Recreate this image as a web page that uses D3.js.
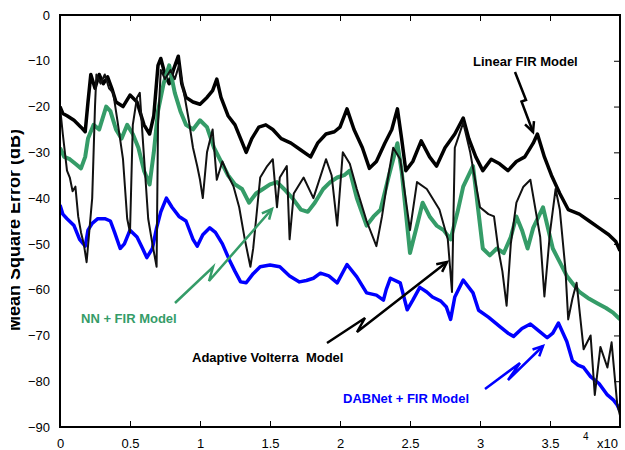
<!DOCTYPE html>
<html>
<head>
<meta charset="utf-8">
<script src="https://cdn.jsdelivr.net/npm/d3@7/dist/d3.min.js"></script>
<style>
    body { margin: 0; background: #fff; }
    svg  { display: block; font-family: "Liberation Sans", Arial, sans-serif; }
    .tick text { font-size: 13px; fill: #000; }
    .tick line { stroke: #000; stroke-width: 1; }
    .note { font-size: 13px; font-weight: bold; }
</style>
</head>
<body>
<svg id="mse-chart" width="625" height="450"></svg>
<script>
////////////////////////////////////////
///// MSE LEARNING CURVES (x10^4)  /////
////////////////////////////////////////

// DATA (iterations in units of 10^4, MSE in dB)

const xTicks = [0, 0.5, 1, 1.5, 2, 2.5, 3, 3.5]
const yTicks = [0, -10, -20, -30, -40, -50, -60, -70, -80, -90]

const linearX = [0, 0.02, 0.05, 0.10, 0.15, 0.18, 0.20, 0.22, 0.25, 0.28, 0.31, 0.34, 0.37, 0.40, 0.45, 0.50, 0.55, 0.60, 0.64, 0.67,
    0.70, 0.72, 0.75, 0.78, 0.81, 0.845, 0.87, 0.90, 0.95, 1.00, 1.05, 1.09, 1.12, 1.15, 1.20, 1.25, 1.29, 1.33, 1.37, 1.42,
    1.47, 1.52, 1.58, 1.65, 1.72, 1.79, 1.84, 1.90, 1.96, 2.00, 2.05, 2.10, 2.16, 2.21, 2.26, 2.32, 2.37, 2.41, 2.44, 2.47,
    2.52, 2.58, 2.64, 2.69, 2.75, 2.82, 2.88, 2.92, 2.97, 3.02, 3.08, 3.14, 3.20, 3.26, 3.32, 3.38, 3.41, 3.46, 3.51, 3.57,
    3.63, 3.71, 3.78, 3.85, 3.92, 3.97, 4.00]
const linearY = [-20, -21.5, -22, -23, -24.5, -25.5, -19, -13, -16, -13, -15, -13.5, -16, -19, -20, -17.5, -19, -24, -26, -22,
    -11, -9.5, -13, -15, -12, -9, -15, -18, -19, -19.5, -18, -16.5, -14, -18, -22, -24, -27, -30, -27, -24.5,
    -24, -25, -27, -28, -29.5, -31, -28, -26, -25.5, -24.5, -20.5, -25, -29, -33.5, -32, -28, -25, -20.5, -27, -34,
    -32, -27.5, -31, -33, -29, -26, -22.5, -27, -31, -34, -31.5, -32.5, -34, -32, -31, -28, -26, -31, -35, -39,
    -42.5, -43.5, -45, -46.5, -48, -49.5, -51.5]

const nnX = [0, 0.03, 0.07, 0.11, 0.15, 0.18, 0.20, 0.24, 0.28, 0.33, 0.36, 0.40, 0.44, 0.48, 0.52, 0.56, 0.60, 0.64, 0.67, 0.70,
    0.74, 0.78, 0.82, 0.86, 0.90, 0.95, 1.00, 1.05, 1.10, 1.15, 1.20, 1.25, 1.30, 1.35, 1.40, 1.45, 1.50, 1.55, 1.60, 1.66,
    1.72, 1.77, 1.82, 1.88, 1.93, 1.98, 2.03, 2.07, 2.12, 2.19, 2.24, 2.29, 2.35, 2.41, 2.44, 2.50, 2.55, 2.59, 2.64, 2.69,
    2.74, 2.79, 2.84, 2.88, 2.95, 3.02, 3.07, 3.12, 3.17, 3.22, 3.26, 3.30, 3.34, 3.38, 3.45, 3.52, 3.57, 3.62, 3.67, 3.71,
    3.78, 3.84, 3.90, 3.95, 4.00]
const nnY = [-29, -31, -31.5, -32.5, -33.5, -31, -27, -24, -25, -20, -21, -25, -27, -24, -26, -29, -34, -37, -30, -21,
    -15, -11, -17, -21, -24, -25, -23, -24.5, -29, -32, -35, -37, -38, -41, -39, -38, -37, -36.5, -38, -40,
    -42.5, -43, -41, -38, -36.5, -35.5, -35, -34, -40, -46, -44, -42.5, -35, -28, -34, -52, -46, -41, -44, -46,
    -47, -49, -43, -37.5, -33, -51, -52.5, -51, -52, -48.5, -44, -47, -51, -46.5, -42, -51, -54, -57, -59, -60.5,
    -62, -63, -64, -65, -66.5]

const volterraX = [0, 0.02, 0.05, 0.07, 0.09, 0.11, 0.13, 0.15, 0.17, 0.19, 0.21, 0.23, 0.25, 0.26, 0.29, 0.32, 0.35, 0.38, 0.41, 0.45,
    0.48, 0.50, 0.52, 0.55, 0.57, 0.59, 0.63, 0.66, 0.69, 0.70, 0.72, 0.75, 0.79, 0.82, 0.85, 0.88, 0.92, 0.95, 0.98, 1.00,
    1.02, 1.05, 1.09, 1.12, 1.16, 1.20, 1.24, 1.28, 1.32, 1.36, 1.38, 1.43, 1.48, 1.52, 1.55, 1.57, 1.62, 1.64, 1.67, 1.74,
    1.81, 1.90, 1.94, 1.98, 2.02, 2.07, 2.12, 2.19, 2.26, 2.30, 2.34, 2.38, 2.43, 2.50, 2.55, 2.62, 2.71, 2.77, 2.80, 2.82,
    2.88, 2.93, 3.00, 3.06, 3.10, 3.13, 3.16, 3.19, 3.22, 3.26, 3.31, 3.36, 3.43, 3.46, 3.50, 3.54, 3.57, 3.61, 3.63, 3.66,
    3.69, 3.74, 3.79, 3.82, 3.86, 3.91, 3.94, 3.98, 4.00]
const volterraY = [-20, -26, -34, -35.5, -38.5, -37.5, -44, -47.5, -50, -54, -47, -40, -20, -13, -15, -13, -16, -17, -23, -31.5,
    -44.5, -47.5, -24, -18, -17, -26.5, -44.5, -50, -55, -24, -12, -14, -12, -14, -11, -16, -23, -29, -33, -36,
    -40, -30, -25, -36, -32, -35, -37.5, -42, -49, -55, -51, -35.5, -33, -31.5, -42, -35.5, -33, -49, -39, -35.5,
    -40, -31.5, -35, -46, -30, -32.5, -38, -45, -50.5, -44, -36, -29, -31.5, -47, -36.5, -38, -42.5, -49, -60.5, -29,
    -23.5, -30, -42, -43.5, -44, -51, -56, -63.5, -50, -41, -37.5, -36, -48.5, -61.5, -47.5, -38, -42.5, -55.5, -66.5, -62,
    -58.5, -73, -70, -83, -72.5, -77, -71.5, -85, -87.5]

const dabnetX = [0, 0.02, 0.05, 0.10, 0.14, 0.18, 0.20, 0.23, 0.27, 0.32, 0.36, 0.39, 0.43, 0.46, 0.50, 0.55, 0.59, 0.62, 0.66, 0.69,
    0.72, 0.76, 0.80, 0.85, 0.90, 0.95, 0.98, 1.02, 1.07, 1.11, 1.16, 1.21, 1.25, 1.29, 1.33, 1.38, 1.43, 1.50, 1.57, 1.64,
    1.71, 1.76, 1.81, 1.86, 1.92, 1.98, 2.05, 2.12, 2.19, 2.26, 2.31, 2.33, 2.36, 2.43, 2.48, 2.52, 2.57, 2.62, 2.66, 2.72,
    2.76, 2.79, 2.82, 2.88, 2.95, 2.99, 3.06, 3.14, 3.20, 3.24, 3.30, 3.36, 3.42, 3.48, 3.52, 3.56, 3.62, 3.66, 3.70, 3.74,
    3.79, 3.85, 3.91, 3.95, 3.98, 4.00]
const dabnetY = [-41.5, -43.5, -44.5, -46, -49, -50.5, -47, -45.5, -44.5, -44.5, -45, -47.5, -51, -50, -47, -48.5, -51, -53, -51, -46.5,
    -43, -40, -42, -44, -45, -49, -50.5, -48, -46.5, -47.5, -50, -53.5, -56, -58.3, -58.5, -56.5, -55, -54.6, -55, -57,
    -58.3, -58, -57.5, -56.4, -57, -58.5, -54.5, -57.2, -60.7, -61.2, -62.3, -60, -57.5, -58.5, -64.4, -62.3, -59.5, -60.5, -61.6, -62.5,
    -63.8, -66.5, -61.6, -57.9, -60.7, -64.5, -66, -68, -69.5, -70.2, -68.5, -67.5, -69, -70.5, -69.5, -67.3, -71.3, -75.5, -76.5, -77,
    -79, -80.5, -83, -84, -85.2, -86.5]


// LAYOUT SETTINGS

const settings = {
    svgID: 'mse-chart',
    plot:  { left: 60, right: 620, top: 15, bottom: 427 },
    colours: { linear: '#000', nn: '#359c68', volterra: '#111', dabnet: '#0000ff' }
}

// Annotation layout: label anchor and "lightning" arrow path (pixels)
const annotations = [
    { text: 'Linear FIR Model',          colour: settings.colours.linear, x: 473, y: 66,
      path: [[515, 72], [526, 100], [521.5, 101.5], [533, 132]] },
    { text: 'NN + FIR Model',            colour: settings.colours.nn,     x: 81,  y: 323,
      path: [[175, 303], [213, 267], [209, 281], [272, 209]] },
    { text: 'Adaptive Volterra\u00a0 Model', colour: '#000',              x: 192, y: 362,
      path: [[327, 343], [365, 318], [357, 332], [447, 262]] },
    { text: 'DABNet + FIR Model',        colour: settings.colours.dabnet, x: 343, y: 403,
      path: [[485, 389], [520, 363], [508, 380], [543, 346]] }
]


// I. SCALES AND AXES
const svg = d3.select(`#${settings.svgID}`)
const p = settings.plot

const x = d3.scaleLinear().domain([0, 4]).range([p.left, p.right])
const y = d3.scaleLinear().domain([0, -90]).range([p.top, p.bottom])

const defs = svg.append('defs')
defs.append('clipPath').attr('id', 'plot-clip')
    .append('rect').attr('x', p.left).attr('y', p.top)
    .attr('width', p.right - p.left).attr('height', p.bottom - p.top)

defs.append('clipPath').attr('id', 'ylabel-clip')
    .append('rect').attr('x', 11).attr('y', 0).attr('width', 30).attr('height', 450)

// Bottom: labelled, ticks pointing inward
svg.append('g').attr('transform', `translate(0,${p.bottom})`)
    .call(d3.axisBottom(x).tickValues(xTicks).tickFormat(d3.format('')).tickSizeInner(-6).tickSizeOuter(0).tickPadding(12))
    .call(g => g.select('.domain').remove())
    .call(g => g.selectAll('.tick').filter(d => d === 0).select('line').remove())

// Left: labels only
svg.append('g').attr('transform', `translate(${p.left},0)`)
    .call(d3.axisLeft(y).tickValues(yTicks).tickSizeInner(0).tickSizeOuter(0).tickPadding(10))
    .call(g => g.select('.domain').remove())
    .call(g => g.selectAll('.tick line').remove())

// Top and right: inward tick marks only
svg.append('g').attr('transform', `translate(0,${p.top})`)
    .call(d3.axisTop(x).tickValues(xTicks.slice(1)).tickFormat('').tickSizeInner(-6).tickSizeOuter(0))
    .call(g => g.select('.domain').remove())

svg.append('g').attr('transform', `translate(${p.right},0)`)
    .call(d3.axisRight(y).tickValues(yTicks.slice(1, -1)).tickFormat('').tickSizeInner(-6).tickSizeOuter(0))
    .call(g => g.select('.domain').remove())

// x10^4 multiplier
svg.append('text').attr('x', 597).attr('y', 448).attr('font-size', 13).text('x10')
svg.append('text').attr('x', 583).attr('y', 440).attr('font-size', 10).text('4')

// Y axis title (cropped at the left edge as in the source)
svg.append('g').attr('clip-path', 'url(#ylabel-clip)')
    .append('text')
    .attr('transform', 'translate(20,230) rotate(-90)')
    .attr('text-anchor', 'middle')
    .attr('font-size', 18).attr('font-weight', 'bold')
    .text('Mean Square Error (dB)')


// II. SERIES
const line = d3.line().x(d => x(d[0])).y(d => y(d[1]))
const series = [
    { id: 'linear',   xs: linearX,   ys: linearY,   colour: settings.colours.linear,   width: 3.5 },
    { id: 'nn',       xs: nnX,       ys: nnY,       colour: settings.colours.nn,       width: 4 },
    { id: 'dabnet',   xs: dabnetX,   ys: dabnetY,   colour: settings.colours.dabnet,   width: 3.5 },
    { id: 'volterra', xs: volterraX, ys: volterraY, colour: settings.colours.volterra, width: 2 }
]

const plotG = svg.append('g').attr('clip-path', 'url(#plot-clip)')
series.forEach(s => {
    plotG.append('path')
        .attr('id', `line_${s.id}`)
        .datum(d3.zip(s.xs, s.ys))
        .attr('d', line)
        .attr('fill', 'none')
        .attr('stroke', s.colour)
        .attr('stroke-width', s.width)
        .attr('stroke-linejoin', 'round')
})

// Plot frame
svg.append('rect')
    .attr('x', p.left).attr('y', p.top)
    .attr('width', p.right - p.left).attr('height', p.bottom - p.top)
    .attr('fill', 'none').attr('stroke', '#000').attr('stroke-width', 2)


// III. ANNOTATIONS
annotations.forEach(a => {
    const g = svg.append('g').attr('class', 'annotation')
    g.append('text').attr('class', 'note')
        .attr('x', a.x).attr('y', a.y)
        .attr('fill', a.colour)
        .text(a.text)

    g.append('path')
        .attr('d', d3.line()(a.path))
        .attr('fill', 'none').attr('stroke', a.colour).attr('stroke-width', 2.5)

    // arrowhead wings at final point
    const [x1, y1] = a.path[a.path.length - 2], [x2, y2] = a.path[a.path.length - 1]
    const ang = Math.atan2(y2 - y1, x2 - x1), len = 11
    const wings = [ang + Math.PI - 0.45, ang + Math.PI + 0.45].map(t => [x2 + len * Math.cos(t), y2 + len * Math.sin(t)])
    g.append('path')
        .attr('d', `M${wings[0]}L${x2},${y2}L${wings[1]}`)
        .attr('fill', 'none').attr('stroke', a.colour).attr('stroke-width', 2.5)
})
</script>
</body>
</html>
